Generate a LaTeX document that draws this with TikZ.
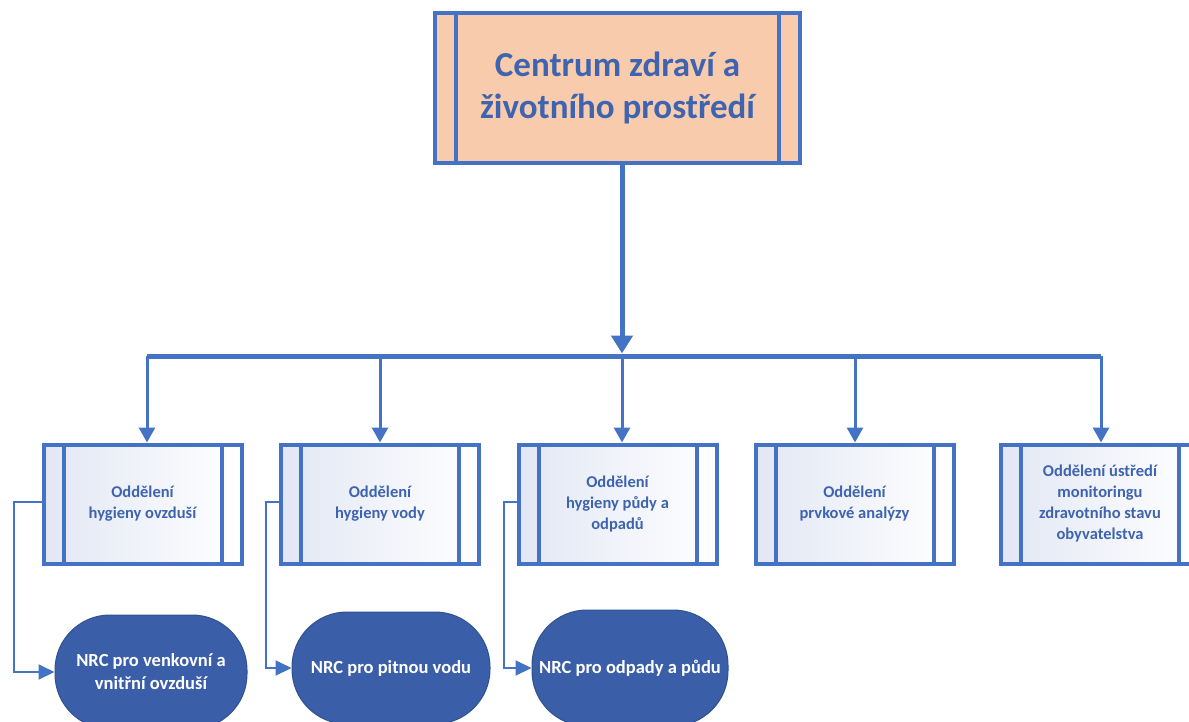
\documentclass[tikz,border=0pt]{standalone}
\usepackage{fontspec}
\setmainfont{Carlito}
\usetikzlibrary{arrows.meta}
\definecolor{bord}{RGB}{68,114,196}
\definecolor{txt}{RGB}{62,100,175}
\definecolor{peach}{RGB}{248,203,173}
\definecolor{lav}{RGB}{226,231,244}
\definecolor{dark}{RGB}{59,94,168}
\definecolor{darkline}{RGB}{47,82,143}
\tikzset{
  bars/.style={path picture={
    \draw[bord, line width=4pt]
      ([xshift=#1]path picture bounding box.north west) -- ([xshift=#1]path picture bounding box.south west)
      ([xshift=-#1]path picture bounding box.north east) -- ([xshift=-#1]path picture bounding box.south east);}},
  topbox/.style={rectangle, draw=bord, line width=4.5pt, fill=peach, inner sep=0pt,
    minimum width=365pt, minimum height=150pt, align=center, text=txt,
    font=\fontsize{35}{42}\selectfont\bfseries, bars=21pt},
  dept/.style={rectangle, draw=bord, line width=4pt, left color=lav, right color=white, inner sep=0pt,
    minimum width=198pt, minimum height=119pt, align=center, text=txt,
    font=\fontsize{16.5}{21}\selectfont\bfseries, bars=20pt},
  nrc/.style={rectangle, rounded corners=55pt, draw=darkline, line width=1pt, fill=dark, inner sep=0pt,
    align=center, text=white, font=\fontsize{18.5}{23}\selectfont\bfseries},
  trunk/.style={draw=bord, line width=5pt, -{Triangle[width=21pt,length=18pt]}},
  branch/.style={draw=bord, line width=3pt, -{Triangle[width=16pt,length=15pt]}},
  side/.style={draw=bord, line width=2pt, -{Triangle[width=15pt,length=16pt]}},
}
\begin{document}
\begin{tikzpicture}[x=1pt,y=-1pt]
\useasboundingbox (0,0) rectangle (1189,722);
\clip (0,0) rectangle (1189,722);
\fill[white] (0,0) rectangle (1189,722);

\node[topbox] (top) at (617.5,88) {Centrum zdraví a\\životního prostředí};

\node[dept] (b1) at (142.5,504) {Oddělení\\hygieny ovzduší};
\node[dept] (b2) at (380,504) {Oddělení\\hygieny vody};
\node[dept] (b3) at (617.5,504) {Oddělení\\hygieny půdy a\\odpadů};
\node[dept] (b4) at (854.5,504) {Oddělení\\prvkové analýzy};
\node[dept] (b5) at (1100,504) {Oddělení ústředí\\monitoringu\\zdravotního stavu\\obyvatelstva};

\node[nrc, minimum width=192pt, minimum height=114pt] (s1) at (151,672) {NRC pro venkovní a\\vnitřní ovzduší};
\node[nrc, minimum width=198pt, minimum height=112pt] (s2) at (391,668) {NRC pro pitnou vodu};
\node[nrc, minimum width=196pt, minimum height=116pt] (s3) at (630,668) {NRC pro odpady a půdu};

\coordinate (t) at (622,356);
\coordinate (h1) at (147,356);
\coordinate (h2) at (380,356);
\coordinate (h3) at (622,356);
\coordinate (h4) at (855,356);
\coordinate (h5) at (1101,356);

\draw[bord, line width=5pt, rounded corners=4pt] (h1) -- (h5);
\draw[trunk] (top.south -| t) -- ([yshift=2.5pt]t);
\draw[branch] (h1) -- (h1 |- b1.north);
\draw[branch] (h2) -- (h2 |- b2.north);
\draw[branch] (h3) -- (h3 |- b3.north);
\draw[branch] (h4) -- (h4 |- b4.north);
\draw[branch] (h5) -- (h5 |- b5.north);

\coordinate (k1) at (14,502);
\coordinate (k2) at (266,502);
\coordinate (k3) at (504,502);
\draw[side] (b1.west |- k1) -- (k1) |- (s1.west);
\draw[side] (b2.west |- k2) -- (k2) |- (s2.west);
\draw[side] (b3.west |- k3) -- (k3) |- (s3.west);
\end{tikzpicture}
\end{document}
